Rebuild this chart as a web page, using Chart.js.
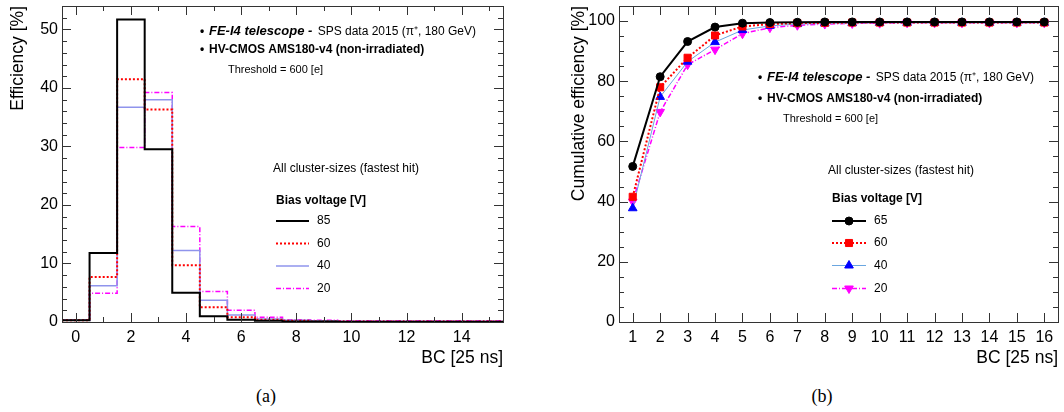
<!DOCTYPE html>
<html>
<head>
<meta charset="utf-8">
<script src="https://cdn.jsdelivr.net/npm/chart.js@4.4.1/dist/chart.umd.min.js"></script>
<style>
  body{margin:0;background:#fff;width:1064px;height:412px;position:relative;overflow:hidden;font-family:"Liberation Sans",Arial,sans-serif}
  canvas{position:absolute;top:0}
  #histChart{left:0}
  #cumChart{left:532px}
  .cap{position:absolute;top:386px;font-family:"Liberation Serif","Times New Roman",serif;font-size:18px;color:#000;transform:translateX(-50%)}
</style>
</head>
<body>
<canvas id="histChart" width="532" height="380"></canvas>
<canvas id="cumChart" width="532" height="380"></canvas>
<div class="cap" style="left:266px">(a)</div>
<div class="cap" style="left:822px">(b)</div>
<script>
// ---- data ----
const binCenters = [0,1,2,3,4,5,6,7,8,9,10,11,12,13,14,15];
const hist85 = [0.3, 11.8, 51.7, 29.5, 5.0, 1.0, 0.4, 0.2, 0.1, 0.1, 0.05, 0.05, 0.05, 0.05, 0.05, 0.05];
const hist60 = [0.3, 7.7, 41.5, 36.3, 9.7, 2.5, 0.8, 0.4, 0.2, 0.1, 0.1, 0.1, 0.1, 0.1, 0.1, 0.1];
const hist40 = [0.3, 6.2, 36.7, 38.0, 12.2, 3.7, 1.2, 0.5, 0.3, 0.2, 0.1, 0.1, 0.1, 0.1, 0.1, 0.1];
const hist20 = [0.3, 4.9, 29.8, 39.2, 16.3, 5.2, 2.0, 0.8, 0.4, 0.3, 0.2, 0.2, 0.2, 0.2, 0.2, 0.2];

const bcValues = [1,2,3,4,5,6,7,8,9,10,11,12,13,14,15,16];
const cum65 = [51.7, 81.5, 93.2, 98.0, 99.3, 99.5, 99.6, 99.7, 99.7, 99.7, 99.7, 99.7, 99.7, 99.7, 99.7, 99.7];
const cum60 = [41.6, 78.0, 87.8, 95.2, 98.2, 99.0, 99.3, 99.4, 99.5, 99.5, 99.5, 99.5, 99.5, 99.5, 99.5, 99.5];
const cum40 = [37.8, 74.8, 86.5, 93.0, 97.0, 98.4, 99.0, 99.2, 99.3, 99.4, 99.4, 99.4, 99.4, 99.4, 99.4, 99.4];
const cum20 = [40.0, 69.8, 85.5, 90.5, 95.8, 97.8, 98.6, 99.0, 99.2, 99.3, 99.4, 99.4, 99.4, 99.4, 99.4, 99.4];

const biasLabelsHist = ["85", "60", "40", "20"];
const biasLabelsCum = ["65", "60", "40", "20"];

const xTicksHist = [0,2,4,6,8,10,12,14];
const yTicksHist = [0,10,20,30,40,50];
const xTicksCum = bcValues;
const yTicksCum = [0,20,40,60,80,100];

const txtTelescope = "FE-I4 telescope -";
const txtBeam = " SPS data 2015 (\u03c0\u207a, 180 GeV)";
const txtSensor = "HV-CMOS AMS180-v4 (non-irradiated)";
const txtThreshold = "Threshold = 600 [e]";
const txtCluster = "All cluster-sizes (fastest hit)";
const txtBias = "Bias voltage [V]";

const SANS = '"Liberation Sans", Arial, sans-serif';

function histPoints(vals){
  const pts = vals.map((v,i) => ({x: binCenters[i], y: v}));
  pts.unshift({x: binCenters[0]-0.5, y: vals[0]});
  pts.push({x: binCenters[binCenters.length-1]+0.5, y: vals[vals.length-1]});
  return pts;
}

function fixedTicks(list){
  return s => { s.ticks = list.map(v => ({value: v})); };
}

// ROOT-like frame, inner ticks, legend texts
const rootFrame = {
  id: "rootFrame",
  afterDatasetsDraw(chart, args, o){
    const {ctx, chartArea: a, scales: {x, y}} = chart;
    ctx.save();
    ctx.strokeStyle = "#333";
    ctx.lineWidth = 1;
    ctx.strokeRect(Math.round(a.left)+0.5, Math.round(a.top)+0.5, Math.round(a.right-a.left), Math.round(a.bottom-a.top));

    ctx.beginPath();
    const xs = (step, len) => {
      for(let v = Math.ceil(x.min/step)*step; v <= x.max + 1e-9; v += step){
        const px = Math.round(x.getPixelForValue(v)) + 0.5;
        ctx.moveTo(px, a.bottom); ctx.lineTo(px, a.bottom - len);
        ctx.moveTo(px, a.top); ctx.lineTo(px, a.top + len);
      }
    };
    const ys = (step, len) => {
      for(let v = Math.ceil(y.min/step)*step; v <= y.max + 1e-9; v += step){
        const py = Math.round(y.getPixelForValue(v)) + 0.5;
        ctx.moveTo(a.left, py); ctx.lineTo(a.left + len, py);
        ctx.moveTo(a.right, py); ctx.lineTo(a.right - len, py);
      }
    };
    xs(o.xMinor, 5); xs(o.xMajor, 9);
    ys(o.yMinor, 5); ys(o.yMajor, 9);
    ctx.stroke();

    // header texts
    ctx.fillStyle = "#000";
    ctx.textBaseline = "alphabetic";
    ctx.textAlign = "left";
    const h = o.header;
    ctx.font = "bold 12px " + SANS;
    ctx.fillText("\u2022", h.x, h.y1);
    ctx.fillText("\u2022", h.x, h.y2);
    ctx.font = "italic bold 13px " + SANS;
    ctx.fillText(txtTelescope, h.x + 9, h.y1);
    const w = ctx.measureText(txtTelescope).width;
    ctx.font = "12px " + SANS;
    ctx.fillText(txtBeam, h.x + 9 + w + 2, h.y1);
    ctx.font = "bold 12px " + SANS;
    ctx.fillText(txtSensor, h.x + 9, h.y2);
    ctx.font = "11px " + SANS;
    ctx.fillText(txtThreshold, h.tx, h.y3);

    // legend
    const L = o.legend;
    ctx.font = "12px " + SANS;
    ctx.fillText(txtCluster, L.cx, L.cy);
    ctx.font = "bold 12px " + SANS;
    ctx.fillText(txtBias, L.x, L.by);
    ctx.font = "12px " + SANS;
    ctx.textBaseline = "middle";
    chart.data.datasets.forEach((ds, i) => {
      const yy = L.rows[i];
      ctx.save();
      ctx.strokeStyle = ds.borderColor;
      ctx.lineWidth = ds.borderWidth;
      ctx.setLineDash(ds.borderDash || []);
      ctx.beginPath();
      ctx.moveTo(L.x, yy); ctx.lineTo(L.x + L.w, yy);
      ctx.stroke();
      ctx.setLineDash([]);
      if(ds.pointRadius){
        ctx.fillStyle = ds.pointBackgroundColor;
        ctx.strokeStyle = ds.pointBorderColor;
        ctx.lineWidth = 1;
        Chart.helpers.drawPoint(ctx, {pointStyle: ds.pointStyle, rotation: ds.pointRotation || 0, radius: ds.pointRadius, borderWidth: 1}, L.x + L.w/2, yy);
      }
      ctx.restore();
      ctx.fillText(ds.label, L.x + L.w + 8, yy);
    });
    ctx.restore();
  }
};

function axisOpts(min, max, ticks, size, title, titlePad, horizontal){
  return {
    type: "linear", min, max,
    afterBuildTicks: fixedTicks(ticks),
    grid: {display: false, drawTicks: false},
    border: {display: false},
    ticks: {color: "#000", font: {family: SANS, size: 16}, padding: horizontal ? 6 : 4, maxRotation: 0, autoSkip: false},
    title: {display: true, text: title, align: "end", color: "#000", font: {family: SANS, size: 17.5}, padding: titlePad},
    afterFit: s => {
      if(horizontal) s.height = size; else s.width = size;
      // keep the frame where it is: no extra room for half tick labels
      s.paddingTop = 0; s.paddingBottom = 0; s.paddingLeft = 0; s.paddingRight = 0;
    }
  };
}

// ---- (a) histogram ----
new Chart(document.getElementById("histChart"), {
  type: "line",
  data: {
    datasets: [
      {label: biasLabelsHist[0], data: histPoints(hist85), borderColor: "#000", borderWidth: 2, borderDash: []},
      {label: biasLabelsHist[1], data: histPoints(hist60), borderColor: "#ff0000", borderWidth: 2, borderDash: [2,2]},
      {label: biasLabelsHist[2], data: histPoints(hist40), borderColor: "#8f94ec", borderWidth: 1.5, borderDash: []},
      {label: biasLabelsHist[3], data: histPoints(hist20), borderColor: "#ff00ff", borderWidth: 1.5, borderDash: [5,2,1,2]}
    ].map(d => Object.assign(d, {stepped: "middle", pointRadius: 0, fill: false}))
  },
  options: {
    responsive: false, animation: false,
    layout: {padding: {top: 6, right: 29, bottom: 0, left: 0}},
    scales: {
      x: axisOpts(-0.5, 15.5, xTicksHist, 58, "BC [25 ns]", {top: 0, bottom: 11}, true),
      y: axisOpts(0, 54, yTicksHist, 62, "Efficiency [%]", {top: 8, bottom: 0}, false)
    },
    plugins: {
      legend: {display: false}, tooltip: {enabled: false},
      rootFrame: {
        xMajor: 2, xMinor: 1, yMajor: 10, yMinor: 2,
        header: {x: 200, y1: 35, y2: 53, y3: 73, tx: 228},
        legend: {cx: 273, cy: 172, x: 276, by: 204, w: 33, rows: [221, 243.5, 266, 288.5]}
      }
    }
  },
  plugins: [rootFrame]
});

// ---- (b) cumulative ----
function cumPoints(vals){ return vals.map((v,i) => ({x: bcValues[i], y: v})); }

new Chart(document.getElementById("cumChart"), {
  type: "line",
  data: {
    datasets: [
      {label: biasLabelsCum[0], data: cumPoints(cum65), borderColor: "#000", borderWidth: 2, borderDash: [],
       pointStyle: "circle", pointRadius: 4, pointBackgroundColor: "#000", pointBorderColor: "#000"},
      {label: biasLabelsCum[1], data: cumPoints(cum60), borderColor: "#ff0000", borderWidth: 2, borderDash: [2,2],
       pointStyle: "rect", pointRadius: 5, pointBackgroundColor: "#ff0000", pointBorderColor: "#ff0000"},
      {label: biasLabelsCum[2], data: cumPoints(cum40), borderColor: "#6aa6e0", borderWidth: 1, borderDash: [],
       pointStyle: "triangle", pointRadius: 5, pointBackgroundColor: "#0000ff", pointBorderColor: "#0000ff"},
      {label: biasLabelsCum[3], data: cumPoints(cum20), borderColor: "#ff00ff", borderWidth: 1.5, borderDash: [5,2,1,2],
       pointStyle: "triangle", pointRotation: 180, pointRadius: 5, pointBackgroundColor: "#ff00ff", pointBorderColor: "#ff00ff"}
    ].map(d => Object.assign(d, {tension: 0, fill: false, pointBorderWidth: 1}))
  },
  options: {
    responsive: false, animation: false,
    layout: {padding: {top: 6, right: 6, bottom: 0, left: 0}},
    scales: {
      x: axisOpts(0.5, 16.5, xTicksCum, 58, "BC [25 ns]", {top: 0, bottom: 11}, true),
      y: axisOpts(0, 105, yTicksCum, 87, "Cumulative efficiency [%]", {top: 37, bottom: 0}, false)
    },
    plugins: {
      legend: {display: false}, tooltip: {enabled: false},
      rootFrame: {
        xMajor: 1, xMinor: 1, yMajor: 20, yMinor: 5,
        header: {x: 226, y1: 81, y2: 102, y3: 122, tx: 251},
        legend: {cx: 296, cy: 174, x: 300, by: 202, w: 34, rows: [221, 243, 265.5, 288.5]}
      }
    }
  },
  plugins: [rootFrame]
});
</script>
</body>
</html>
